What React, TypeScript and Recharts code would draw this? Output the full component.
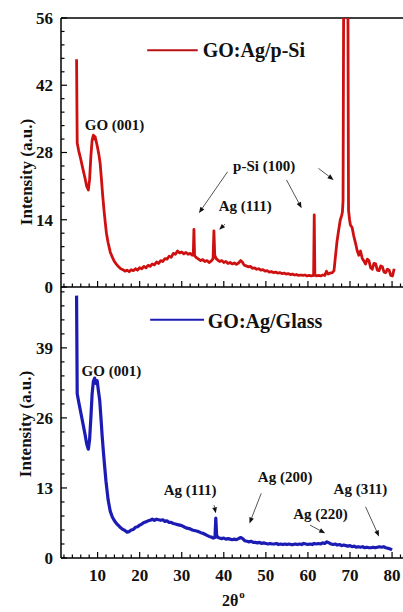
import React from 'react';
import { LineChart, Line, XAxis, YAxis, ReferenceLine, ReferenceDot } from 'recharts';

// XRD scans: [2θ (deg), intensity (a.u.)]
const redScan: [number, number][] = [
  [5.0, 47.4], [5.15, 30.0], [5.5, 28.4], [6.0, 26.6], [6.5, 24.6], [7.0, 22.7], [7.4, 21.0], [7.8, 20.2],
  [8.1, 22.4], [8.4, 27.2], [8.7, 30.6], [9.0, 31.6], [9.2, 30.8], [9.4, 31.3], [9.7, 30.2], [10.0, 29.0],
  [10.3, 27.6], [10.6, 25.8], [10.9, 22.6], [11.2, 19.2], [11.5, 16.2], [11.8, 13.6], [12.1, 11.2], [12.5, 9.2],
  [13.0, 7.3], [13.5, 6.2], [14.0, 5.3], [14.5, 4.7], [15.0, 4.2], [15.5, 3.8], [16.0, 3.6], [16.5, 3.3],
  [17.0, 3.5], [17.5, 3.2], [18.0, 3.6], [18.5, 3.4], [19.0, 3.8], [19.5, 3.5], [20.0, 4.0], [20.5, 3.8],
  [21.0, 4.3], [21.5, 4.0], [22.0, 4.5], [22.5, 4.3], [23.0, 4.8], [23.5, 4.6], [24.0, 5.2], [24.5, 4.9],
  [25.0, 5.5], [25.5, 5.3], [26.0, 5.9], [26.5, 5.8], [27.0, 6.4], [27.5, 6.2], [28.0, 7.0], [28.5, 6.8],
  [29.0, 7.5], [29.5, 7.1], [30.0, 7.3], [30.5, 6.9], [31.0, 7.2], [31.5, 6.8], [32.0, 7.0], [32.5, 6.6],
  [32.75, 6.8], [32.9, 12.0], [33.05, 6.5], [33.5, 6.1], [34.0, 5.8], [34.5, 5.5], [35.0, 5.7], [35.5, 5.3],
  [36.0, 5.5], [36.5, 5.1], [37.0, 5.4], [37.45, 5.9], [37.65, 11.7], [37.85, 6.6], [38.2, 5.9], [38.6, 5.6],
  [39.0, 5.3], [39.5, 5.5], [40.0, 5.1], [40.5, 5.3], [41.0, 4.9], [41.5, 5.1], [42.0, 4.8], [42.5, 5.0],
  [43.0, 4.7], [43.5, 5.0], [44.0, 5.5], [44.4, 5.2], [44.8, 4.6], [45.3, 4.4], [45.8, 4.2], [46.3, 4.3],
  [46.8, 3.9], [47.3, 4.0], [47.8, 3.7], [48.3, 3.8], [48.8, 3.5], [49.3, 3.6], [49.8, 3.3], [50.3, 3.4],
  [50.8, 3.1], [51.3, 3.2], [51.8, 3.0], [52.3, 3.1], [52.8, 2.9], [53.3, 3.0], [53.8, 2.8], [54.3, 2.9],
  [54.8, 2.7], [55.3, 2.8], [55.8, 2.6], [56.3, 2.7], [56.8, 2.5], [57.3, 2.6], [57.8, 2.4], [58.3, 2.5],
  [58.8, 2.4], [59.3, 2.5], [59.8, 2.3], [60.3, 2.4], [60.8, 2.3], [61.35, 2.4], [61.5, 15.0], [61.65, 2.5],
  [62.0, 2.3], [62.5, 2.4], [63.0, 2.3], [63.5, 2.5], [64.0, 2.4], [64.4, 3.3], [64.8, 2.7], [65.3, 2.9],
  [65.8, 3.0], [66.2, 3.4], [66.5, 6.0], [66.9, 9.4], [67.3, 11.8], [67.7, 14.0], [68.0, 14.8], [68.2, 15.6],
  [68.35, 18.0], [69.0, 210], [69.65, 16.0], [69.9, 14.0], [70.1, 12.9], [70.5, 12.4], [70.9, 10.6], [71.3, 9.2],
  [71.7, 7.6], [72.1, 6.6], [72.5, 7.5], [72.9, 6.0], [73.3, 5.4], [73.7, 4.8], [74.1, 5.8], [74.5, 5.5],
  [74.9, 4.0], [75.3, 3.7], [75.7, 4.9], [76.1, 4.8], [76.5, 3.5], [76.9, 3.4], [77.3, 4.4], [77.7, 4.2],
  [78.1, 3.1], [78.5, 3.0], [78.9, 3.7], [79.3, 3.5], [79.7, 2.4], [80.1, 2.3], [80.5, 3.8],
];

const blueScan: [number, number][] = [
  [5.0, 48.7], [5.15, 30.5], [5.5, 29.0], [6.0, 27.0], [6.5, 25.0], [7.0, 23.0], [7.4, 21.2], [7.8, 20.2],
  [8.1, 22.0], [8.4, 26.0], [8.7, 30.5], [9.0, 32.8], [9.3, 33.4], [9.6, 32.4], [9.9, 32.9], [10.2, 31.0],
  [10.5, 29.3], [10.8, 26.0], [11.1, 22.5], [11.4, 19.5], [11.7, 16.8], [12.0, 14.2], [12.5, 10.8], [13.0, 8.7],
  [13.5, 7.6], [14.0, 6.9], [14.5, 6.4], [15.0, 6.0], [15.5, 5.6], [16.0, 5.3], [16.5, 5.1], [17.0, 4.8],
  [17.5, 4.9], [18.0, 5.2], [18.5, 5.3], [19.0, 5.7], [19.5, 5.8], [20.0, 6.1], [20.5, 6.3], [21.0, 6.6],
  [21.5, 6.7], [22.0, 6.9], [22.5, 7.0], [23.0, 7.2], [23.5, 7.0], [24.0, 7.2], [24.5, 7.1], [25.0, 7.0],
  [25.5, 7.1], [26.0, 6.8], [26.5, 6.9], [27.0, 6.6], [27.5, 6.6], [28.0, 6.4], [28.5, 6.3], [29.0, 6.2],
  [29.5, 6.1], [30.0, 6.0], [30.5, 5.8], [31.0, 5.6], [31.5, 5.5], [32.0, 5.4], [32.5, 5.2], [33.0, 5.1],
  [33.5, 5.0], [34.0, 4.9], [34.5, 4.7], [35.0, 4.6], [35.5, 4.4], [36.0, 4.2], [36.5, 4.0], [37.0, 3.9],
  [37.5, 3.7], [37.9, 3.8], [38.1, 7.4], [38.3, 4.2], [38.6, 3.8], [39.0, 3.7], [39.5, 3.6], [40.0, 3.7],
  [40.5, 3.5], [41.0, 3.6], [41.5, 3.5], [42.0, 3.4], [42.5, 3.5], [43.0, 3.4], [43.5, 3.6], [44.0, 3.8],
  [44.5, 3.6], [45.0, 3.2], [45.5, 3.1], [46.0, 3.0], [46.5, 3.1], [47.0, 2.9], [47.5, 2.9], [48.0, 2.8],
  [48.5, 2.9], [49.0, 2.7], [49.5, 2.8], [50.0, 2.7], [50.5, 2.6], [51.0, 2.7], [51.5, 2.6], [52.0, 2.6],
  [52.5, 2.7], [53.0, 2.5], [53.5, 2.6], [54.0, 2.5], [54.5, 2.6], [55.0, 2.5], [55.5, 2.6], [56.0, 2.5],
  [56.5, 2.5], [57.0, 2.6], [57.5, 2.5], [58.0, 2.6], [58.5, 2.5], [59.0, 2.7], [59.5, 2.6], [60.0, 2.5],
  [60.5, 2.6], [61.0, 2.5], [61.5, 2.7], [62.0, 2.6], [62.5, 2.7], [63.0, 2.6], [63.5, 2.8], [64.0, 2.7],
  [64.5, 3.0], [65.0, 2.8], [65.5, 2.6], [66.0, 2.5], [66.5, 2.6], [67.0, 2.4], [67.5, 2.5], [68.0, 2.3],
  [68.5, 2.4], [69.0, 2.3], [69.5, 2.2], [70.0, 2.3], [70.5, 2.1], [71.0, 2.2], [71.5, 2.0], [72.0, 2.1],
  [72.5, 2.0], [73.0, 2.1], [73.5, 1.9], [74.0, 2.0], [74.5, 1.9], [75.0, 1.9], [75.5, 2.0], [76.0, 1.9],
  [76.5, 2.0], [77.0, 2.1], [77.5, 2.0], [78.0, 2.1], [78.5, 1.9], [79.0, 1.8], [79.5, 1.7], [80.0, 1.5],
];

const xTicks = [2, 4, 6, 8, 10, 12, 14, 16, 18, 20, 22, 24, 26, 28, 30, 32, 34, 36, 38, 40, 42, 44, 46, 48,
  50, 52, 54, 56, 58, 60, 62, 64, 66, 68, 70, 72, 74, 76, 78, 80, 82];
const topYTicks = [0, 2.8, 5.6, 8.4, 11.2, 14, 16.8, 19.6, 22.4, 25.2, 28, 30.8, 33.6, 36.4, 39.2, 42,
  44.8, 47.6, 50.4, 53.2, 56];
const bottomYTicks = [0, 2.6, 5.2, 7.8, 10.4, 13, 15.6, 18.2, 20.8, 23.4, 26, 28.6, 31.2, 33.8, 36.4, 39,
  41.6, 44.2, 46.8, 49.4];

const RED = '#cf1010';
const BLUE = '#1c1cb4';
const FONT = '"Liberation Serif", "Times New Roman", serif';

const toRows = (scan: [number, number][]) => scan.map(([a, i]) => ({ a, i }));

const XTick = (props: any) => {
  const { x, y, payload, showLabel } = props;
  const major = payload.value % 10 === 0;
  return (
    <g>
      <line x1={x} x2={x} y1={y} y2={y - (major ? 6 : 3.5)} stroke="#000" strokeWidth={1.2} />
      {showLabel && major && (
        <text x={x} y={y + 23} textAnchor="middle" fontFamily={FONT} fontWeight="bold" fontSize={17} fill="#111">
          {payload.value}
        </text>
      )}
    </g>
  );
};

const YTick = (props: any) => {
  const { x, y, payload, step } = props;
  const r = payload.value / step;
  const major = Math.abs(r - Math.round(r)) < 1e-6;
  return (
    <g>
      <line x1={x} x2={x + (major ? 6 : 3.5)} y1={y} y2={y} stroke="#000" strokeWidth={1.2} />
      {major && (
        <text x={x - 8} y={y} dy="0.35em" textAnchor="end" fontFamily={FONT} fontWeight="bold" fontSize={17} fill="#111">
          {Math.round(payload.value)}
        </text>
      )}
    </g>
  );
};

const arrow = (p: any) => {
  const { x1, y1, x2, y2 } = p;
  const ang = Math.atan2(y2 - y1, x2 - x1);
  const L = 6;
  const W = 2.4;
  const bx = x2 - L * Math.cos(ang);
  const by = y2 - L * Math.sin(ang);
  const pts = `${x2},${y2} ${bx - W * Math.sin(ang)},${by + W * Math.cos(ang)} ${bx + W * Math.sin(ang)},${by - W * Math.cos(ang)}`;
  return (
    <g>
      <line x1={x1} y1={y1} x2={bx} y2={by} stroke="#555" strokeWidth={1} />
      <polygon points={pts} fill="#111" />
    </g>
  );
};

const note = (label: string, size = 15) => (p: any) => (
  <text x={p.cx} y={p.cy} fontFamily={FONT} fontWeight="bold" fontSize={size} fill="#111">
    {label}
  </text>
);

export default function App() {
  return (
    <div style={{ position: 'absolute', left: 0, top: 0, width: 403, height: 612, background: '#fff', overflow: 'hidden' }}>
      <div style={{ position: 'absolute', left: 0, top: 0 }}>
        <LineChart width={403} height={300} margin={{ top: 18, right: 0, bottom: 11, left: 0 }}>
          <XAxis
            type="number"
            dataKey="a"
            domain={[1.3, 82.6]}
            allowDataOverflow
            ticks={xTicks}
            interval={0}
            height={2}
            tickSize={0}
            tickMargin={0}
            tick={(p: any) => <XTick {...p} showLabel={false} />}
            axisLine={{ stroke: '#000', strokeWidth: 1.5 }}
          />
          <YAxis
            type="number"
            domain={[0, 56]}
            allowDataOverflow
            ticks={topYTicks}
            interval={0}
            width={61}
            tickSize={0}
            tickMargin={0}
            tick={(p: any) => <YTick {...p} step={14} />}
            axisLine={{ stroke: '#000', strokeWidth: 1.5 }}
          />
          <ReferenceLine y={56} stroke="#000" strokeWidth={1.5} />
          <Line
            data={toRows(redScan)}
            dataKey="i"
            type="linear"
            stroke={RED}
            strokeWidth={2.8}
            strokeLinejoin="round"
            dot={false}
            isAnimationActive={false}
          />
          <ReferenceLine segment={[{ x: 21.8, y: 49.3 }, { x: 33.8, y: 49.3 }]} stroke="#b81212" strokeWidth={2} />
          <ReferenceDot x={35.0} y={47.9} shape={note('GO:Ag/p-Si', 20)} />
          <ReferenceDot x={6.95} y={32.7} shape={note('GO (001)')} />
          <ReferenceDot x={42.2} y={24.1} shape={note('p-Si (100)')} />
          <ReferenceDot x={38.8} y={15.8} shape={note('Ag (111)')} />
          <ReferenceLine segment={[{ x: 40.9, y: 24.0 }, { x: 34.1, y: 15.4 }]} shape={arrow} />
          <ReferenceLine segment={[{ x: 54.9, y: 22.3 }, { x: 58.5, y: 16.4 }]} shape={arrow} />
          <ReferenceLine segment={[{ x: 62.5, y: 24.7 }, { x: 66.1, y: 22.3 }]} shape={arrow} />
          <ReferenceLine segment={[{ x: 40.3, y: 13.1 }, { x: 38.9, y: 11.9 }]} shape={arrow} />
        </LineChart>
      </div>

      <div style={{ position: 'absolute', left: 0, top: 287 }}>
        <LineChart width={403} height={325} margin={{ top: 0, right: 0, bottom: 0, left: 0 }}>
          <XAxis
            type="number"
            dataKey="a"
            domain={[1.3, 82.6]}
            allowDataOverflow
            ticks={xTicks}
            interval={0}
            height={54}
            tickSize={0}
            tickMargin={0}
            tick={(p: any) => <XTick {...p} showLabel />}
            axisLine={{ stroke: '#000', strokeWidth: 1.5 }}
          />
          <YAxis
            type="number"
            domain={[0, 50.3]}
            allowDataOverflow
            ticks={bottomYTicks}
            interval={0}
            width={61}
            tickSize={0}
            tickMargin={0}
            tick={(p: any) => <YTick {...p} step={13} />}
            axisLine={{ stroke: '#000', strokeWidth: 1.5 }}
          />
          <Line
            data={toRows(blueScan)}
            dataKey="i"
            type="linear"
            stroke={BLUE}
            strokeWidth={3.2}
            strokeLinejoin="round"
            dot={false}
            isAnimationActive={false}
          />
          <ReferenceLine segment={[{ x: 22.5, y: 44.2 }, { x: 35.3, y: 44.2 }]} stroke={BLUE} strokeWidth={2} />
          <ReferenceDot x={36.2} y={42.7} shape={note('GO:Ag/Glass', 20)} />
          <ReferenceDot x={6.2} y={33.8} shape={note('GO (001)')} />
          <ReferenceDot x={25.7} y={11.7} shape={note('Ag (111)')} />
          <ReferenceDot x={48.1} y={14.1} shape={note('Ag (200)')} />
          <ReferenceDot x={56.5} y={7.2} shape={note('Ag (220)')} />
          <ReferenceDot x={66.1} y={11.9} shape={note('Ag (311)')} />
          <ReferenceLine segment={[{ x: 37.7, y: 9.8 }, { x: 38.1, y: 8.3 }]} shape={arrow} />
          <ReferenceLine segment={[{ x: 48.9, y: 12.0 }, { x: 46.1, y: 6.4 }]} shape={arrow} />
          <ReferenceLine segment={[{ x: 60.5, y: 6.1 }, { x: 64.1, y: 4.6 }]} shape={arrow} />
          <ReferenceLine segment={[{ x: 73.7, y: 9.5 }, { x: 76.9, y: 4.0 }]} shape={arrow} />
        </LineChart>
      </div>

      <svg width={403} height={612} style={{ position: 'absolute', left: 0, top: 0, pointerEvents: 'none' }}>
        <text transform="translate(26,172) rotate(-90)" textAnchor="middle" dy="0.35em" fontFamily={FONT} fontWeight="bold" fontSize={17} fill="#111">
          Intensity (a.u.)
        </text>
        <text transform="translate(25,424) rotate(-90)" textAnchor="middle" dy="0.35em" fontFamily={FONT} fontWeight="bold" fontSize={17} fill="#111">
          Intensity (a.u.)
        </text>
        <text x={222} y={606} fontFamily={FONT} fontWeight="bold" fontSize={16} fill="#111">
          2θ<tspan dx={1} dy={-8} fontSize={11}>o</tspan>
        </text>
      </svg>
    </div>
  );
}
